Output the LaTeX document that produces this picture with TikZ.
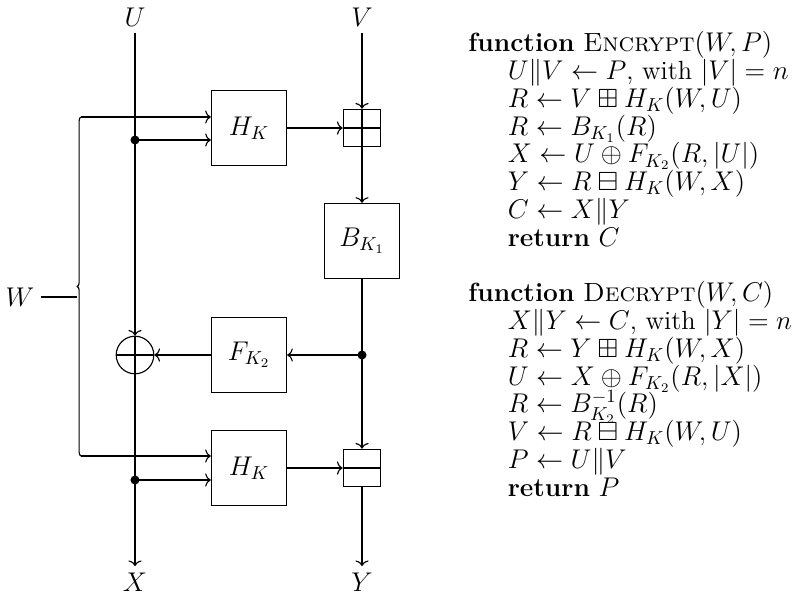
\documentclass[tikz,border=0pt]{standalone}
\usepackage{amsmath,amssymb}
\usetikzlibrary{positioning,decorations.pathreplacing,arrows.meta}

\newcommand\codefont{\fontsize{14pt}{14.8pt}\selectfont\lineskiplimit=-20pt\relax}

\tikzset{
  func/.style={draw, semithick, minimum size=40pt, inner sep=0pt},
  addbox/.style={draw, semithick, minimum size=20pt, inner sep=0pt,
    path picture={\draw[semithick] (path picture bounding box.north) -- (path picture bounding box.south)
      (path picture bounding box.west) -- (path picture bounding box.east);}},
  subbox/.style={draw, semithick, minimum size=20pt, inner sep=0pt,
    path picture={\draw[semithick] (path picture bounding box.west) -- (path picture bounding box.east);}},
  xorop/.style={draw, semithick, circle, minimum size=20pt, inner sep=0pt,
    path picture={\draw[semithick] (path picture bounding box.north) -- (path picture bounding box.south)
      (path picture bounding box.west) -- (path picture bounding box.east);}},
  wire/.style={semithick, -{To[length=3pt, width=7pt]}},
  code/.style={anchor=north west, inner sep=0pt, align=left, font=\codefont},
}

\begin{document}
\begin{tikzpicture}[x=0.532pt, y=-0.532pt, font=\fontsize{14pt}{16pt}\selectfont]
  \useasboundingbox (0,0) rectangle (796,597);

  % inputs and outputs
  \node (U) at (135,17) {$U$};
  \node (V) at (362,17) {$V$};
  \node (X) at (135,582) {$X$};
  \node (Y) at (362,582) {$Y$};
  \node (W) at (20,297) {$W$};

  % blocks
  \node[func] (H1) at (249,128) {$H_K$};
  \node[addbox] (add) at (362,128) {};
  \node[func] (B) at (362,241) {$B_{K_1}$};
  \node[func] (F) at (249,355) {$F_{K_2}$};
  \node[xorop] (xor) at (135,355) {};
  \node[func] (H2) at (249,468) {$H_K$};
  \node[subbox] (sub) at (362,468) {};

  \coordinate (d1) at (135,140);
  \coordinate (d2) at (135,480);
  \coordinate (split) at (362,355);
  \coordinate (wtop) at (81,117);
  \coordinate (wbot) at (81,456);
  \coordinate (wtip) at (77,297);

  % left branch
  \draw[wire] (U) -- (xor);
  \draw[wire] (xor) -- (X);
  \draw[wire] (d1) -- (d1 -| H1.west);
  \draw[wire] (d2) -- (d2 -| H2.west);
  \fill (d1) circle (2.4pt) (d2) circle (2.4pt);

  % tweak
  \draw[semithick, decorate, decoration={brace, amplitude=2pt}] (wbot) -- (wtop);
  \draw[semithick] (W) -- (wtip);
  \draw[wire] (wtop) -- (wtop -| H1.west);
  \draw[wire] (wbot) -- (wbot -| H2.west);

  % right branch
  \draw[wire] (V) -- (add);
  \draw[wire] (H1) -- (add);
  \draw[wire] (add) -- (B);
  \draw[wire] (B) -- (sub);
  \fill (split) circle (2.4pt);
  \draw[wire] (split) -- (F);
  \draw[wire] (F) -- (xor);
  \draw[wire] (H2) -- (sub);
  \draw[wire] (sub) -- (Y);

  % pseudocode
  \node[code] (enc) at (468,31)
    {\textbf{function} \textsc{Encrypt}$(W,P)$\\
     \hspace*{1.5em}$U\|V \gets P$, with $|V| = n$\\
     \hspace*{1.5em}$R \gets V \boxplus H_K(W,U)$\\
     \hspace*{1.5em}$R \gets B_{K_1}(R)$\\
     \hspace*{1.5em}$X \gets U \oplus F_{K_2}(R,|U|)$\\
     \hspace*{1.5em}$Y \gets R \boxminus H_K(W,X)$\\
     \hspace*{1.5em}$C \gets X\|Y$\\
     \hspace*{1.5em}\textbf{return} $C$};
  \node[code] (dec) at (468,281)
    {\textbf{function} \textsc{Decrypt}$(W,C)$\\
     \hspace*{1.5em}$X\|Y \gets C$, with $|Y| = n$\\
     \hspace*{1.5em}$R \gets Y \boxplus H_K(W,X)$\\
     \hspace*{1.5em}$U \gets X \oplus F_{K_2}(R,|X|)$\\
     \hspace*{1.5em}$R \gets B_{K_2}^{-1}(R)$\\
     \hspace*{1.5em}$V \gets R \boxminus H_K(W,U)$\\
     \hspace*{1.5em}$P \gets U\|V$\\
     \hspace*{1.5em}\textbf{return} $P$};
\end{tikzpicture}
\end{document}
